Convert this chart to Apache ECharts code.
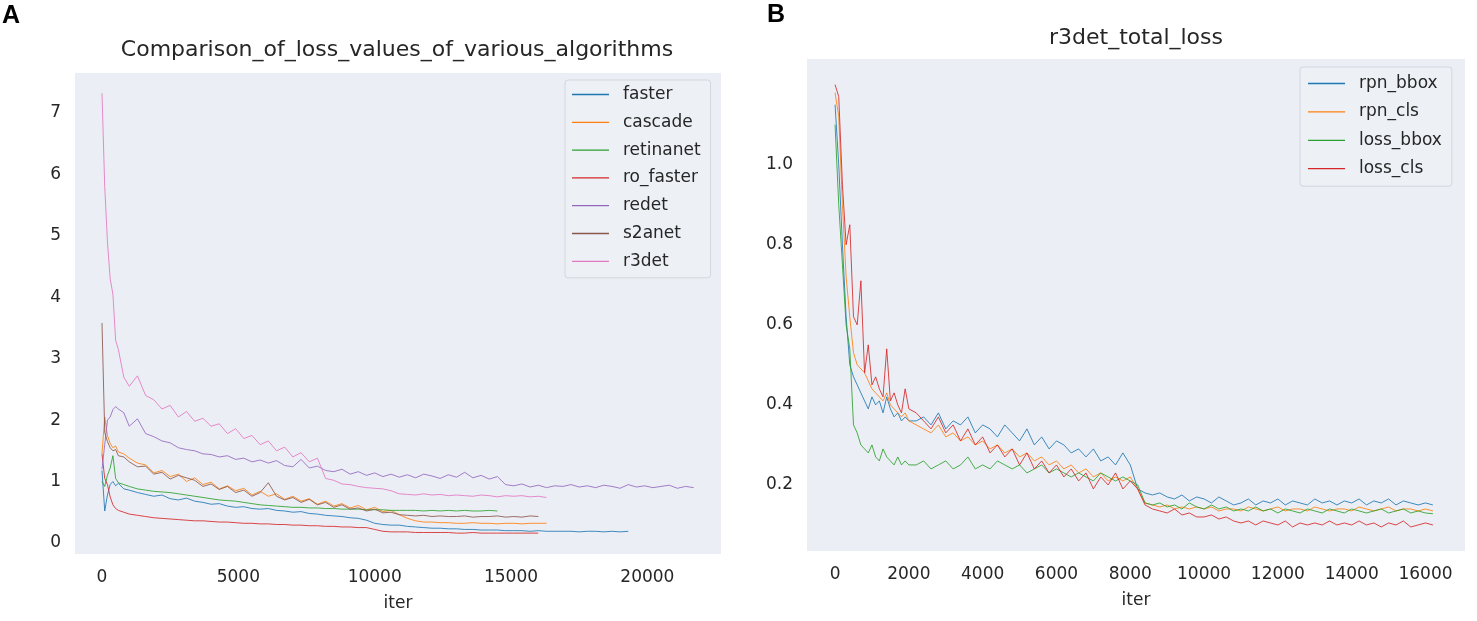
<!DOCTYPE html>
<html>
<head>
<meta charset="utf-8">
<title>loss curves</title>
<script src="https://cdn.jsdelivr.net/npm/echarts@6/dist/echarts.min.js"></script>
<style>
  html, body { margin: 0; padding: 0; background: #fff; }
  #chart { width: 1477px; height: 621px; }
</style>
</head>
<body>
<div id="chart"></div>
<script>
// ---- panel A: iterations shared by all algorithms (each series uses a prefix) ----
var leftIters = [0, 100, 200, 300, 400, 500, 600, 800, 1000, 1300,
  1600, 1900, 2200, 2500, 2800, 3100, 3400, 3700, 4000, 4300,
  4600, 4900, 5200, 5500, 5800, 6100, 6400, 6700, 7000, 7300,
  7600, 7900, 8200, 8500, 8800, 9100, 9400, 9700, 10000, 10300,
  10600, 10900, 11200, 11500, 11800, 12100, 12400, 12700, 13000, 13300,
  13600, 13900, 14200, 14500, 14800, 15100, 15400, 15700, 16000, 16300,
  16600, 16900, 17200, 17500, 17800, 18100, 18400, 18700, 19000, 19300,
  19600, 19900, 20200, 20500, 20800, 21100, 21400, 21700]

var faster = [1.18, 0.52, 0.78, 0.95, 1.00, 0.93, 0.97, 0.88, 0.86, 0.82,
  0.79, 0.76, 0.78, 0.72, 0.70, 0.73, 0.68, 0.66, 0.63, 0.64,
  0.60, 0.58, 0.59, 0.56, 0.55, 0.56, 0.53, 0.52, 0.50, 0.51,
  0.48, 0.47, 0.45, 0.44, 0.43, 0.41, 0.40, 0.37, 0.32, 0.30,
  0.29, 0.29, 0.27, 0.26, 0.25, 0.24, 0.24, 0.23, 0.23, 0.22,
  0.22, 0.21, 0.21, 0.21, 0.20, 0.20, 0.20, 0.19, 0.20, 0.19,
  0.19, 0.19, 0.19, 0.18, 0.19, 0.19, 0.18, 0.19, 0.18, 0.19]
var cascade = [1.45, 2.05, 1.75, 1.62, 1.55, 1.58, 1.48, 1.45, 1.38, 1.30,
  1.27, 1.14, 1.18, 1.08, 1.12, 1.00, 1.06, 0.95, 0.99, 0.88,
  0.93, 0.85, 0.89, 0.78, 0.84, 0.76, 0.80, 0.71, 0.76, 0.68,
  0.72, 0.63, 0.68, 0.60, 0.64, 0.57, 0.61, 0.54, 0.58, 0.51,
  0.53, 0.46, 0.40, 0.36, 0.34, 0.34, 0.33, 0.33, 0.32, 0.32,
  0.33, 0.32, 0.32, 0.31, 0.32, 0.32, 0.31, 0.32, 0.32, 0.32]
var retinanet = [1.00, 0.92, 1.10, 1.22, 1.42, 1.05, 0.98, 0.95, 0.92, 0.88,
  0.86, 0.84, 0.83, 0.82, 0.80, 0.78, 0.76, 0.74, 0.72, 0.70,
  0.69, 0.68, 0.66, 0.64, 0.62, 0.61, 0.60, 0.59, 0.58, 0.58,
  0.57, 0.57, 0.56, 0.56, 0.55, 0.55, 0.55, 0.54, 0.54, 0.54,
  0.53, 0.53, 0.53, 0.53, 0.52, 0.53, 0.52, 0.53, 0.52, 0.53,
  0.52, 0.52, 0.53, 0.52]
var roFaster = [1.45, 1.05, 0.95, 0.75, 0.62, 0.56, 0.53, 0.50, 0.47, 0.45,
  0.43, 0.41, 0.40, 0.39, 0.38, 0.37, 0.36, 0.36, 0.35, 0.34,
  0.34, 0.33, 0.32, 0.32, 0.31, 0.31, 0.30, 0.30, 0.29, 0.29,
  0.28, 0.28, 0.27, 0.27, 0.26, 0.26, 0.25, 0.25, 0.22, 0.19,
  0.18, 0.18, 0.18, 0.17, 0.17, 0.17, 0.17, 0.17, 0.16, 0.16,
  0.17, 0.16, 0.16, 0.16, 0.16, 0.16, 0.16, 0.16, 0.16]
var redet = [1.20, 1.60, 2.00, 2.05, 2.17, 2.22, 2.18, 2.12, 1.90, 2.02,
  1.78, 1.73, 1.66, 1.63, 1.55, 1.52, 1.50, 1.45, 1.44, 1.40,
  1.42, 1.36, 1.38, 1.32, 1.35, 1.30, 1.34, 1.26, 1.24, 1.36,
  1.22, 1.25, 1.18, 1.16, 1.20, 1.12, 1.16, 1.10, 1.14, 1.08,
  1.12, 1.07, 1.11, 1.06, 1.12, 1.09, 1.05, 1.11, 1.07, 1.15,
  1.06, 1.10, 1.04, 1.08, 0.95, 0.93, 0.96, 0.91, 0.94, 0.90,
  0.93, 0.92, 0.95, 0.91, 0.93, 0.90, 0.94, 0.92, 0.89, 0.95,
  0.91, 0.93, 0.90, 0.92, 0.94, 0.89, 0.92, 0.90]
var s2anet = [3.58, 1.80, 1.65, 1.55, 1.50, 1.52, 1.42, 1.40, 1.32, 1.24,
  1.25, 1.12, 1.15, 1.04, 1.10, 1.06, 1.02, 0.92, 0.96, 0.87,
  0.92, 0.82, 0.86, 0.76, 0.82, 0.98, 0.76, 0.70, 0.74, 0.66,
  0.71, 0.62, 0.66, 0.58, 0.62, 0.55, 0.57, 0.52, 0.55, 0.49,
  0.50, 0.46, 0.45, 0.44, 0.45, 0.43, 0.44, 0.43, 0.43, 0.44,
  0.42, 0.43, 0.43, 0.44, 0.42, 0.43, 0.42, 0.44, 0.43]
var r3det = [7.32, 5.80, 4.90, 4.30, 4.05, 3.30, 3.15, 2.70, 2.55, 2.72,
  2.40, 2.33, 2.18, 2.24, 2.05, 2.14, 1.98, 2.03, 1.90, 1.94,
  1.78, 1.86, 1.70, 1.75, 1.60, 1.66, 1.50, 1.56, 1.40, 1.47,
  1.32, 1.38, 1.05, 1.02, 0.96, 0.95, 0.92, 0.90, 0.89, 0.88,
  0.85, 0.80, 0.79, 0.78, 0.80, 0.78, 0.79, 0.77, 0.78, 0.77,
  0.76, 0.78, 0.77, 0.75, 0.77, 0.76, 0.77, 0.75, 0.76, 0.74]

var leftNames = ['faster', 'cascade', 'retinanet', 'ro_faster', 'redet', 's2anet', 'r3det']
var leftValues = [faster, cascade, retinanet, roFaster, redet, s2anet, r3det]
var leftColors = ['#1f77b4', '#ff7f0e', '#2ca02c', '#d62728', '#9467bd', '#8c564b', '#e377c2']
var leftXTicks = [0, 5000, 10000, 15000, 20000]
var leftYTicks = [0, 1, 2, 3, 4, 5, 6, 7]

// ---- panel B: r3det loss components ----
var rightIters = [0, 100, 200, 300, 400, 500, 600, 700, 800, 900,
  1000, 1100, 1200, 1300, 1400, 1500, 1600, 1700, 1800, 1900,
  2000, 2200, 2400, 2600, 2800, 3000, 3200, 3400, 3600, 3800,
  4000, 4200, 4400, 4600, 4800, 5000, 5200, 5400, 5600, 5800,
  6000, 6200, 6400, 6600, 6800, 7000, 7200, 7400, 7600, 7800,
  8000, 8200, 8400, 8600, 8800, 9000, 9200, 9400, 9600, 9800,
  10000, 10200, 10400, 10600, 10800, 11000, 11200, 11400, 11600, 11800,
  12000, 12200, 12400, 12600, 12800, 13000, 13200, 13400, 13600, 13800,
  14000, 14200, 14400, 14600, 14800, 15000, 15200, 15400, 15600, 15800,
  16000, 16200]

var rpnBbox = [1.15, 1.00, 0.80, 0.62, 0.50, 0.47, 0.45, 0.43, 0.41, 0.39,
  0.42, 0.40, 0.41, 0.38, 0.42, 0.39, 0.37, 0.38, 0.36, 0.37,
  0.36, 0.36, 0.37, 0.35, 0.38, 0.34, 0.36, 0.35, 0.37, 0.33,
  0.35, 0.34, 0.32, 0.35, 0.33, 0.31, 0.34, 0.30, 0.32, 0.29,
  0.31, 0.30, 0.28, 0.29, 0.27, 0.29, 0.26, 0.27, 0.25, 0.28,
  0.25, 0.19, 0.18, 0.175, 0.18, 0.17, 0.165, 0.175, 0.16, 0.17,
  0.165, 0.155, 0.17, 0.16, 0.15, 0.155, 0.165, 0.15, 0.16, 0.155,
  0.165, 0.15, 0.16, 0.155, 0.15, 0.165, 0.155, 0.16, 0.15, 0.16,
  0.155, 0.165, 0.15, 0.16, 0.155, 0.165, 0.15, 0.16, 0.155, 0.15,
  0.155, 0.15]
var rpnCls = [1.18, 1.12, 0.90, 0.72, 0.62, 0.53, 0.50, 0.49, 0.48, 0.46,
  0.44, 0.43, 0.42, 0.41, 0.43, 0.40, 0.39, 0.38, 0.37, 0.38,
  0.36, 0.35, 0.34, 0.33, 0.35, 0.32, 0.33, 0.31, 0.32, 0.30,
  0.31, 0.29, 0.30, 0.28, 0.29, 0.27, 0.28, 0.26, 0.27, 0.25,
  0.26, 0.24, 0.25, 0.23, 0.24, 0.22, 0.23, 0.21, 0.22, 0.21,
  0.22, 0.19, 0.155, 0.15, 0.145, 0.15, 0.14, 0.145, 0.14, 0.145,
  0.14, 0.145, 0.135, 0.14, 0.14, 0.135, 0.145, 0.14, 0.135, 0.14,
  0.145, 0.135, 0.14, 0.14, 0.135, 0.145, 0.14, 0.135, 0.14, 0.14,
  0.135, 0.145, 0.14, 0.135, 0.14, 0.145, 0.135, 0.14, 0.14, 0.135,
  0.14, 0.135]
var lossBbox = [1.10, 0.90, 0.75, 0.60, 0.54, 0.35, 0.33, 0.30, 0.29, 0.28,
  0.30, 0.27, 0.26, 0.29, 0.27, 0.26, 0.25, 0.27, 0.25, 0.26,
  0.25, 0.25, 0.26, 0.24, 0.25, 0.26, 0.24, 0.25, 0.27, 0.24,
  0.25, 0.24, 0.26, 0.25, 0.24, 0.25, 0.23, 0.24, 0.25, 0.23,
  0.24, 0.23, 0.22, 0.23, 0.22, 0.21, 0.23, 0.22, 0.21, 0.22,
  0.21, 0.20, 0.155, 0.15, 0.155, 0.145, 0.15, 0.14, 0.155, 0.145,
  0.14, 0.15, 0.14, 0.145, 0.135, 0.14, 0.135, 0.145, 0.135, 0.14,
  0.13, 0.14, 0.135, 0.13, 0.14, 0.135, 0.13, 0.14, 0.135, 0.13,
  0.14, 0.135, 0.13, 0.135, 0.14, 0.13, 0.135, 0.14, 0.13, 0.135,
  0.13, 0.128]
var lossCls = [1.20, 1.17, 0.95, 0.80, 0.85, 0.62, 0.60, 0.71, 0.48, 0.55,
  0.45, 0.47, 0.44, 0.42, 0.54, 0.41, 0.43, 0.40, 0.38, 0.44,
  0.39, 0.38, 0.36, 0.34, 0.37, 0.33, 0.35, 0.31, 0.34, 0.30,
  0.32, 0.28, 0.30, 0.27, 0.29, 0.25, 0.28, 0.24, 0.26, 0.23,
  0.25, 0.22, 0.24, 0.21, 0.23, 0.19, 0.22, 0.20, 0.23, 0.19,
  0.21, 0.19, 0.15, 0.14, 0.135, 0.13, 0.14, 0.125, 0.13, 0.12,
  0.12, 0.125, 0.115, 0.12, 0.11, 0.105, 0.11, 0.10, 0.11, 0.105,
  0.10, 0.11, 0.095, 0.105, 0.10, 0.105, 0.10, 0.11, 0.10, 0.105,
  0.10, 0.11, 0.10, 0.105, 0.095, 0.105, 0.10, 0.11, 0.095, 0.10,
  0.105, 0.10]

var rightNames = ['rpn_bbox', 'rpn_cls', 'loss_bbox', 'loss_cls']
var rightValues = [rpnBbox, rpnCls, lossBbox, lossCls]
var rightColors = ['#1f77b4', '#ff7f0e', '#2ca02c', '#d62728']
var rightXTicks = [0, 2000, 4000, 6000, 8000, 10000, 12000, 14000, 16000]
var rightYTicks = [0.2, 0.4, 0.6, 0.8, 1.0]

var FONT = 'DejaVu Sans'
var TEXT = '#262626'
var PLOT_BG = '#ebeff5'

function pairs (xs, ys) {
  return ys.map(function (v, i) { return [xs[i], v] })
}

function makeSeries (names, values, colors, xs, idx) {
  return names.map(function (name, i) {
    return {
      name: name,
      type: 'line',
      xAxisIndex: idx,
      yAxisIndex: idx,
      symbol: 'none',
      animation: false,
      lineStyle: { width: 1, color: colors[i], opacity: 0.85 },
      itemStyle: { color: colors[i] },
      data: pairs(xs, values[i])
    }
  })
}

function xAxisOf (idx, min, max, ticks) {
  return {
    type: 'value', gridIndex: idx, min: min, max: max,
    name: 'iter', nameLocation: 'middle', nameGap: 41,
    nameTextStyle: { fontFamily: FONT, fontSize: 17, color: TEXT },
    axisLine: { show: false }, axisTick: { show: false }, splitLine: { show: false },
    axisLabel: {
      customValues: ticks, formatter: function (v) { return String(v) },
      fontFamily: FONT, fontSize: 17, color: TEXT, margin: 15
    }
  }
}

function yAxisOf (idx, min, max, ticks, fmt) {
  return {
    type: 'value', gridIndex: idx, min: min, max: max,
    axisLine: { show: false }, axisTick: { show: false }, splitLine: { show: false },
    axisLabel: { customValues: ticks, formatter: fmt, fontFamily: FONT, fontSize: 17, color: TEXT, margin: 14 }
  }
}

function legendOf (names, left, top, padding, gap) {
  return {
    data: names, orient: 'vertical', left: left, top: top,
    padding: padding, icon: 'rect', itemWidth: 37, itemHeight: 1.3, itemGap: gap,
    backgroundColor: 'rgba(237,241,246,0.9)', borderColor: '#d3d6dc', borderWidth: 1, borderRadius: 3,
    textStyle: { fontFamily: FONT, fontSize: 17, color: TEXT, padding: [0, 0, 0, 9], lineHeight: 17 }
  }
}

var chart = echarts.init(document.getElementById('chart'))
chart.setOption({
  backgroundColor: '#ffffff',
  animation: false,
  title: [
    { text: 'A', left: 2, top: 4, padding: 0, textStyle: { fontFamily: 'Liberation Sans', fontWeight: 'bold', fontSize: 25, color: '#000' } },
    { text: 'B', left: 767, top: 3, padding: 0, textStyle: { fontFamily: 'Liberation Sans', fontWeight: 'bold', fontSize: 25, color: '#000' } },
    { text: 'Comparison_of_loss_values_of_various_algorithms', left: 397, top: 39, padding: 0, textAlign: 'center',
      textStyle: { fontFamily: FONT, fontWeight: 'normal', fontSize: 22, color: TEXT } },
    { text: 'r3det_total_loss', left: 1136, top: 27, padding: 0, textAlign: 'center',
      textStyle: { fontFamily: FONT, fontWeight: 'normal', fontSize: 22, color: TEXT } }
  ],
  legend: [
    legendOf(leftNames, 565, 80, [6, 10, 8, 7], 10.8),
    legendOf(rightNames, 1300, 67, [8, 10, 9, 8], 11.4)
  ],
  grid: [
    { left: 75, top: 73, width: 646, height: 481, show: true, backgroundColor: PLOT_BG, borderWidth: 0 },
    { left: 807, top: 59, width: 658, height: 492, show: true, backgroundColor: PLOT_BG, borderWidth: 0 }
  ],
  xAxis: [
    xAxisOf(0, -990, 22700, leftXTicks),
    xAxisOf(1, -760, 17070, rightXTicks)
  ],
  yAxis: [
    yAxisOf(0, -0.18, 7.65, leftYTicks, function (v) { return String(Math.round(v)) }),
    yAxisOf(1, 0.035, 1.264, rightYTicks, function (v) { return v.toFixed(1) })
  ],
  series: makeSeries(leftNames, leftValues, leftColors, leftIters, 0)
    .concat(makeSeries(rightNames, rightValues, rightColors, rightIters, 1))
})
</script>
</body>
</html>
